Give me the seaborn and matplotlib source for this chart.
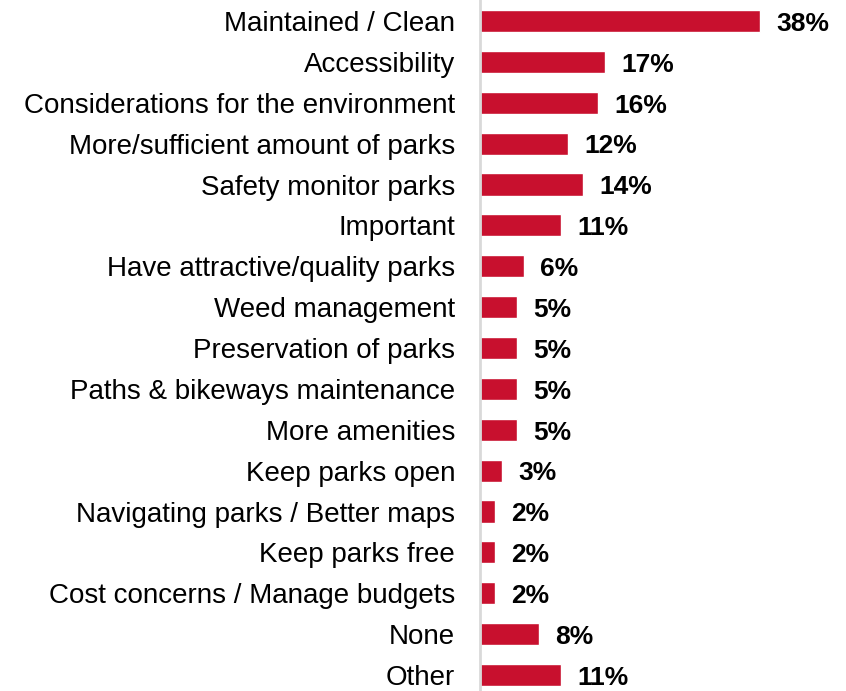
import pandas as pd
import seaborn as sns
import matplotlib.pyplot as plt

categories = [
    'Maintained / Clean',
    'Accessibility',
    'Considerations for the environment',
    'More/sufficient amount of parks',
    'Safety monitor parks',
    'Important',
    'Have attractive/quality parks',
    'Weed management',
    'Preservation of parks',
    'Paths & bikeways maintenance',
    'More amenities',
    'Keep parks open',
    'Navigating parks / Better maps',
    'Keep parks free',
    'Cost concerns / Manage budgets',
    'None',
    'Other',
]
percent = [38, 17, 16, 12, 14, 11, 6, 5, 5, 5, 5, 3, 2, 2, 2, 8, 11]

df = pd.DataFrame({'category': categories, 'percent': percent})

sns.set_style('white')
plt.rcParams['font.family'] = ['Liberation Sans', 'DejaVu Sans']

fig = plt.figure(figsize=(8.46, 6.91), dpi=100)
ax = fig.add_axes([480 / 846, 0, 366 / 846, 1])

sns.barplot(data=df, x='percent', y='category', color='#C8102E',
            width=0.54, saturation=1, ax=ax)

# value labels next to each bar
for i, v in enumerate(percent):
    ax.annotate(f'{v}%', xy=(v, i), xytext=(11.5, -2), textcoords='offset points',
                ha='left', va='center', fontsize=19, fontweight='bold', color='black')

ax.set_xlim(0, 366 / 7.37)
ax.set_ylim(16.391, -0.514)
ax.set_xlabel('')
ax.set_ylabel('')
ax.set_xticks([])
ax.tick_params(axis='y', length=0, pad=18, labelsize=20, labelcolor='black')
for side in ['top', 'right', 'bottom']:
    ax.spines[side].set_visible(False)
ax.spines['left'].set_color('#D9D9D9')
ax.spines['left'].set_linewidth(2)

fig.savefig('out.png', dpi=100)
